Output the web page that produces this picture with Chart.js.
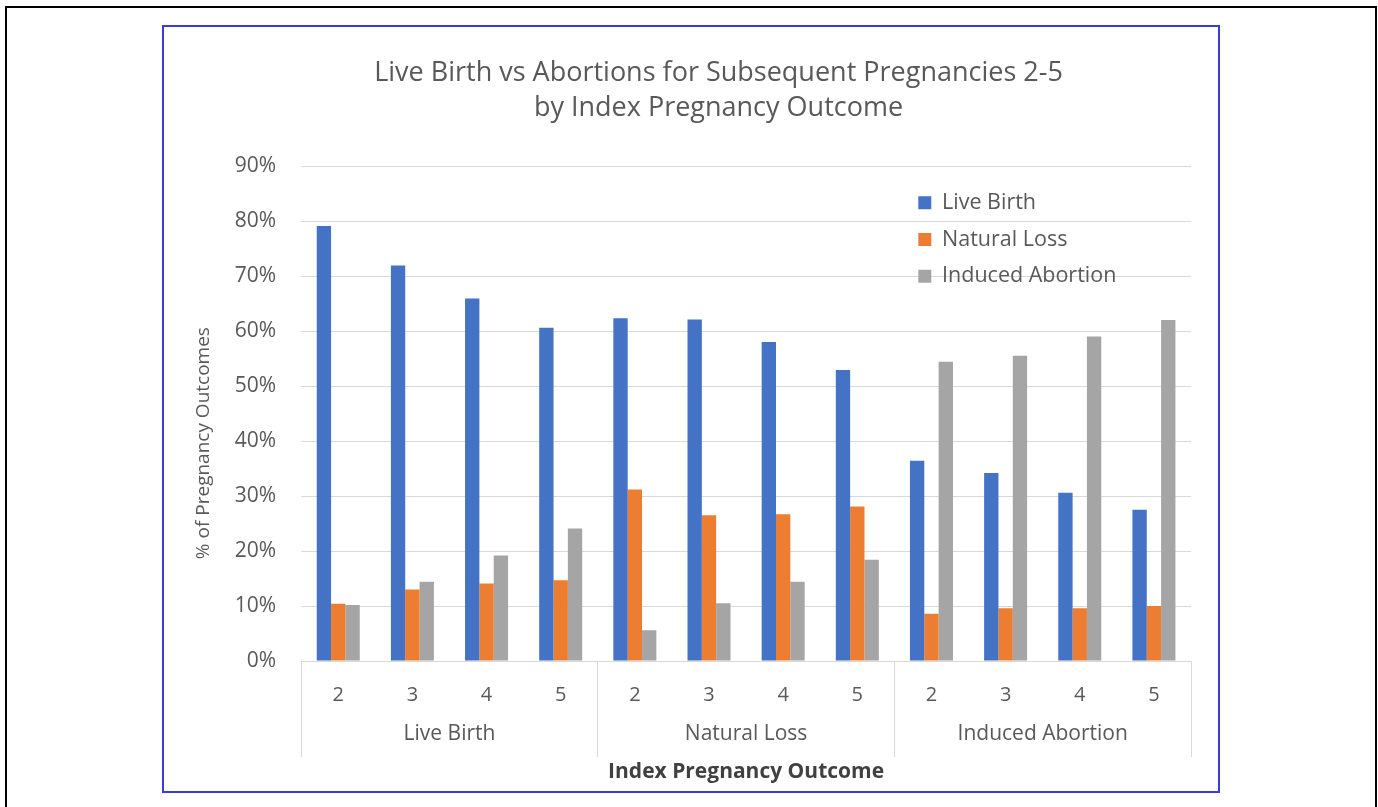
<!DOCTYPE html>
<html>
<head>
<meta charset="utf-8">
<script src="https://cdn.jsdelivr.net/npm/chart.js@4.4.0/dist/chart.umd.min.js"></script>
<style>
  html, body { margin: 0; padding: 0; background: #fff; overflow: hidden; }
  #outer { position: absolute; left: 5px; top: 6px; width: 1372px; height: 830px; border: 2px solid #000; box-sizing: border-box; }
  #frame { position: absolute; left: 162px; top: 25px; width: 1058px; height: 768px; border: 2px solid #3c3cd2; box-sizing: border-box; }
  #wrap { position: absolute; left: 164px; top: 27px; width: 1100px; height: 764px; }
</style>
</head>
<body>
<div id="outer"></div>
<div id="frame"></div>
<div id="wrap"><canvas id="chart"></canvas></div>
<script>
const chartTitle = ['Live Birth vs Abortions for Subsequent Pregnancies 2-5', 'by Index Pregnancy Outcome'];
const subsequentPregnancy = ['2', '3', '4', '5', '2', '3', '4', '5', '2', '3', '4', '5'];
const indexOutcome = ['Live Birth', 'Natural Loss', 'Induced Abortion'];
const seriesNames = ['Live Birth', 'Natural Loss', 'Induced Abortion'];
const seriesColors = ['#4472C4', '#ED7D31', '#A5A5A5'];

// percent of pregnancy outcomes
const liveBirth = [79.1, 71.9, 65.9, 60.6, 62.3, 62.1, 58.0, 52.9, 36.4, 34.2, 30.6, 27.5];
const naturalLoss = [10.4, 13.0, 14.1, 14.7, 31.2, 26.5, 26.7, 28.1, 8.6, 9.6, 9.6, 10.0];
const inducedAbortion = [10.2, 14.4, 19.2, 24.1, 5.6, 10.5, 14.4, 18.4, 54.4, 55.5, 59.0, 62.0];

const yMax = 90;
const yStep = 10;

Chart.defaults.font.family = "'Open Sans', sans-serif";
Chart.defaults.color = '#595959';

// puts the legend inside the plot, top right, without taking layout space
const legendInPlot = {
    id: 'legendInPlot',
    afterInit(chart) {
        const legend = chart.legend;
        const update = legend.update;
        legend.update = function (...args) {
            update.apply(this, args);
            this.width = 0;
        };
    },
    afterLayout(chart) {
        const legend = chart.legend;
        legend.left = 739;
        legend.top = 142.5;
        legend.right = legend.left + 260;
        legend.bottom = legend.top + 140;
    }
};

new Chart(document.getElementById('chart'), {
    type: 'bar',
    data: {
        labels: subsequentPregnancy,
        datasets: [
            { label: seriesNames[0], data: liveBirth, backgroundColor: seriesColors[0] },
            { label: seriesNames[1], data: naturalLoss, backgroundColor: seriesColors[1] },
            { label: seriesNames[2], data: inducedAbortion, backgroundColor: seriesColors[2] }
        ]
    },
    options: {
        responsive: true,
        maintainAspectRatio: false,
        animation: false,
        layout: { padding: { left: 28, right: 19, top: 0, bottom: 0 } },
        datasets: {
            bar: { categoryPercentage: 0.58, barPercentage: 1, borderWidth: 0 }
        },
        plugins: {
            title: {
                display: true,
                text: chartTitle,
                color: '#595959',
                font: { size: 27, weight: 'normal', lineHeight: '35px' },
                padding: { top: 29, bottom: 40 }
            },
            legend: {
                position: 'right',
                labels: {
                    boxWidth: 13,
                    boxHeight: 13,
                    padding: 15.3,
                    color: '#595959',
                    font: { size: 21.5 },
                    textAlign: 'left'
                }
            },
            tooltip: { enabled: false }
        },
        scales: {
            x: {
                weight: 0,
                grid: {
                    drawOnChartArea: false,
                    drawTicks: true,
                    tickLength: 96,
                    offset: true,
                    color: c => (c.index === undefined || c.index % 4 === 0) ? '#d9d9d9' : 'rgba(0,0,0,0)'
                },
                border: { display: true, color: '#d9d9d9' },
                ticks: { padding: -74, color: '#595959', font: { size: 20 }, maxRotation: 0, autoSkip: false },
                afterFit: s => { s.height = 46; }
            },
            x2: {
                type: 'category',
                labels: indexOutcome,
                position: 'bottom',
                weight: 1,
                offset: true,
                grid: { display: false, drawTicks: false },
                border: { display: false },
                ticks: { padding: 14, color: '#595959', font: { size: 21 }, maxRotation: 0, autoSkip: false },
                title: {
                    display: true,
                    text: 'Index Pregnancy Outcome',
                    color: '#404040',
                    font: { size: 21, weight: 'bold' },
                    padding: { top: 15, bottom: 6 }
                },
                afterFit: s => { s.height = 84; }
            },
            y: {
                min: 0,
                max: yMax,
                grid: { color: '#d9d9d9', drawTicks: false },
                border: { display: false },
                ticks: {
                    stepSize: yStep,
                    padding: 25,
                    color: '#595959',
                    font: { size: 21 },
                    callback: v => v + '%'
                },
                title: {
                    display: true,
                    text: '% of Pregnancy Outcomes' + ' '.repeat(12),
                    color: '#595959',
                    font: { size: 19 },
                    padding: { top: 0, bottom: -5 }
                }
            },
            yR: {
                position: 'right',
                grid: { display: false, drawTicks: false },
                border: { display: false },
                ticks: { display: false },
                afterFit: s => { s.width = 54; }
            }
        }
    },
    plugins: [legendInPlot]
});
</script>
</body>
</html>
